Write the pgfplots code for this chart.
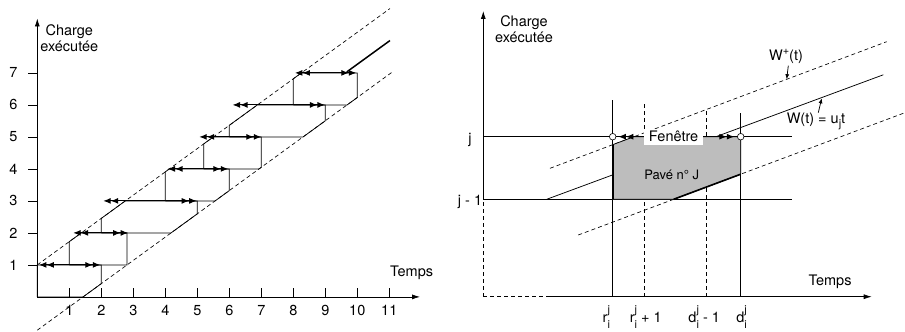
\documentclass[border=0pt]{standalone}
\usepackage{pgfplots}
\pgfplotsset{compat=1.18}
\usepackage{fontspec}
\setmainfont{TeX Gyre Heros}
\usetikzlibrary{arrows.meta}
\newcommand{\bigf}{\fontsize{14.5}{16.7}\selectfont}
\newcommand{\scr}{\fontsize{11}{12}\selectfont}
\newcommand{\subsup}[1]{#1\rlap{\raisebox{-5.5pt}{\scr i}}\raisebox{9.5pt}{\scr j}}
\tikzset{
  dh/.style={black, line width=1.1pt, {Latex[length=7.5pt,width=6pt]Latex[length=7.5pt,width=6pt]}-{Latex[length=7.5pt,width=6pt]Latex[length=7.5pt,width=6pt]}},
  ln/.style={black, line width=0.75pt},
  dsh/.style={black, line width=0.65pt, dash pattern=on 4pt off 3pt},
  ax/.style={black, line width=0.75pt, -{Latex[length=8pt,width=5pt]}},
  every node/.append style={font=\bigf},
}
\begin{document}
\bigf
\begin{tikzpicture}[font=\bigf]
\useasboundingbox (0,0) rectangle (905pt,332pt);
% ---------------- left panel ----------------
\begin{axis}[hide axis, clip=false, x=32pt, y=32pt, xmin=-1, xmax=12, ymin=-1, ymax=9.2,
  at={(5.3pt,3.1pt)}, anchor=south west, font=\bigf]
\addplot[ax] coordinates {(0,0) (0,8.7)};
\addplot[ax] coordinates {(0,0) (11.96,0)};
\pgfplotsinvokeforeach{1,...,11}{
  \addplot[ln] coordinates {(#1,0) (#1,0.28)};
  \node at (axis cs:#1,-0.43) {#1};
}
\pgfplotsinvokeforeach{1,...,7}{
  \addplot[ln] coordinates {(0,#1) (-0.28,#1)};
  \node at (axis cs:-0.75,#1) {#1};
}
\addplot[dsh] coordinates {(0,1) (11.02,9.01)};
\addplot[dsh] coordinates {(0,-1.04) (11.07,7.01)};
\addplot[black, line width=1.5pt] coordinates {(9.67,7.03) (11.02,8.01)};
% paves
\addplot[ln] coordinates {(0,0) (0,1) (2,1) (2,0.414) (1.43,0) (0,0)};
\addplot[ln] coordinates {(1,1) (1,1.727) (1.376,2) (2.8,2) (2.8,1) (1,1)};
\addplot[ln] coordinates {(2,2) (2,2.454) (2.751,3) (5,3) (5,2.595) (4.18,2) (2,2)};
\addplot[ln] coordinates {(4,3) (4,3.908) (4.127,4) (6,4) (6,3.322) (5.557,3) (4,3)};
\addplot[ln] coordinates {(5.2,4) (5.2,4.78) (5.502,5) (7,5) (7,4.049) (6.93,4) (5.2,4)};
\addplot[ln] coordinates {(6,5) (6,5.362) (6.878,6) (9,6) (9,5.503) (8.308,5) (6,5)};
\addplot[ln] coordinates {(8,6) (8,6.816) (8.253,7) (10,7) (10,6.23) (9.684,6) (8,6)};
% windows
\addplot[dh] coordinates {(0.05,1) (1.97,1)};
\addplot[dh] coordinates {(1.12,2) (2.84,2)};
\addplot[dh] coordinates {(2.06,3) (4.98,3)};
\addplot[dh] coordinates {(4.07,4) (5.97,4)};
\addplot[dh] coordinates {(5.06,5) (7.0,5)};
\addplot[dh] coordinates {(6.1,6) (8.99,6)};
\addplot[dh] coordinates {(8.05,7) (9.97,7)};
\node[align=center] at (axis cs:1.0,8.08) {Charge\\exécutée};
\node at (axis cs:11.7,0.75) {Temps};
\end{axis}
% ---------------- right panel ----------------
\begin{axis}[hide axis, clip=false, x=1pt, y=1pt, xmin=-20, xmax=420, ymin=-30, ymax=290,
  at={(463.3pt,5.3pt)}, anchor=south west, font=\bigf]
\addplot[ax] coordinates {(0,97.4) (0,285.7)};
\addplot[dsh] coordinates {(0,0) (0,97.4)};
\addplot[dsh] coordinates {(0,0) (65,0)};
\addplot[ax] coordinates {(65,0) (388.4,0)};
\addplot[ln] coordinates {(0,160) (308.4,160)};
\addplot[ln] coordinates {(0,97.4) (308.4,97.4)};
\addplot[ln] coordinates {(129.4,0) (129.4,196.7)};
\addplot[ln] coordinates {(257.4,0) (257.4,183.7)};
\addplot[dsh] coordinates {(160.7,0) (160.7,194.7)};
\addplot[dsh] coordinates {(223.4,0) (223.4,186.7)};
\addplot[dsh] coordinates {(66.7,128.4) (403.4,255)};
\addplot[ln] coordinates {(63.4,97.4) (400,221.9)};
\addplot[dsh] coordinates {(95,61.7) (420,183.4)};
% pave
\addplot[ln, fill={rgb,255:red,189;green,189;blue,189}] coordinates {(129.4,97.4) (129.4,152) (150.7,160) (257.4,160) (257.4,122.5) (190.3,97.4) (129.4,97.4)};
\addplot[black, line width=1.6pt] coordinates {(129.4,97.4) (129.4,152)};
\addplot[black, line width=1.6pt] coordinates {(190.3,97.4) (257.4,122.5)};
\addplot[ln] coordinates {(129.4,160) (257.4,160)};
\addplot[dh] coordinates {(135,160) (251,160)};
\node[fill=white, inner xsep=5pt, inner ysep=2.5pt] at (axis cs:190.3,160) {Fenêtre};
\addplot[only marks, mark=*, mark size=3.3pt, mark options={fill=white, draw=black, line width=0.6pt}] coordinates {(129.4,160) (257.4,160)};
\node[font=\fontsize{13}{15}\selectfont] at (axis cs:188.4,121.7) {Pavé n° J};
% labels
\node[align=center] at (axis cs:40.7,267.5) {Charge\\exécutée};
\node at (axis cs:346.7,15) {Temps};
\node at (axis cs:302.7,240) {W\raisebox{6pt}{\scr +}(t)};
\addplot[ln, -{Latex[length=5pt,width=4pt]}] coordinates {(305,231) (303.4,217.5)};
\node at (axis cs:332.7,175) {W(t) = u\raisebox{-4pt}{\scr j}t};
\addplot[ln, -{Latex[length=5pt,width=4pt]}] coordinates {(335,184) (338.4,198.4)};
\node at (axis cs:-13.3,156.7) {j};
\node at (axis cs:-13.3,95) {j - 1};
\node[anchor=base, inner xsep=0pt] at (axis cs:123,-26) {\subsup{r}};
\node[anchor=base, inner xsep=0pt] at (axis cs:162.5,-26) {\subsup{r} + 1};
\node[anchor=base, inner xsep=0pt] at (axis cs:220.9,-26) {\subsup{d} - 1};
\node[anchor=base, inner xsep=0pt] at (axis cs:258.2,-26) {\subsup{d}};
\end{axis}
\end{tikzpicture}
\end{document}
